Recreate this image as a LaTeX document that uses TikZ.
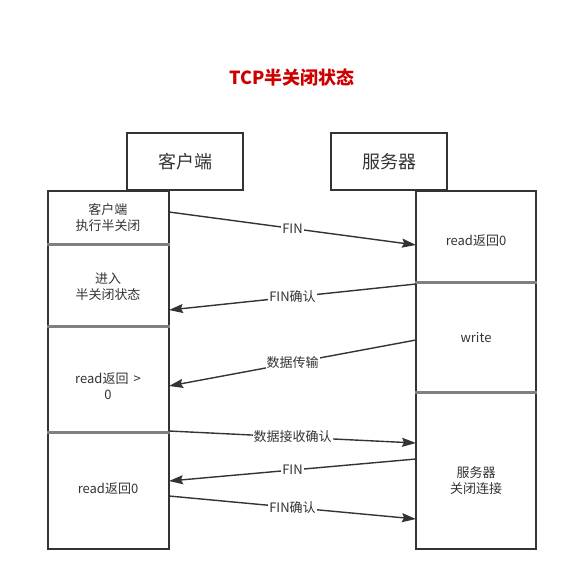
\documentclass[tikz,border=0pt]{standalone}
\usepackage{fontspec}
\setmainfont{Noto Sans CJK SC}
\usetikzlibrary{arrows.meta}

\begin{document}
\begin{tikzpicture}[
  x=1pt, y=-1pt,
  font=\fontsize{13}{16}\selectfont,
  hdr/.style={draw=black!80, line width=1.6pt, minimum width=116pt,
              minimum height=57pt, inner sep=0pt,
              font=\fontsize{18}{20}\selectfont, text=black!80},
  col/.style={draw=black!80, line width=1.6pt, minimum width=121pt,
              minimum height=358pt, inner sep=0pt},
  txt/.style={align=center, text=black!80},
  sep/.style={draw=black!50, line width=3pt},
  >={Stealth[length=14pt, width=9pt, inset=2pt]},
  msg/.style={->, draw=black!80, line width=1.4pt},
  lb/.style={fill=white, inner sep=1pt, text=black!80},
]
\useasboundingbox (0,0) rectangle (568,582);

\node[font=\fontsize{18}{20}\selectfont\bfseries, text=red!80!black] (title)
     at (292,78) {TCP半关闭状态};

\node[hdr] (cli) at (185,161.5) {客户端};
\node[hdr] (srv) at (389,161.5) {服务器};

\node[col] (cliCol) at (108.5,370) {};
\node[col, minimum width=120pt] (srvCol) at (476,370) {};

% separators
\draw[sep] (cliCol.west |- 0,244) -- (cliCol.east |- 0,244);
\draw[sep] (cliCol.west |- 0,326) -- (cliCol.east |- 0,326);
\draw[sep] (cliCol.west |- 0,432) -- (cliCol.east |- 0,432);
\draw[sep] (srvCol.west |- 0,282) -- (srvCol.east |- 0,282);
\draw[sep] (srvCol.west |- 0,392) -- (srvCol.east |- 0,392);

% cell texts
\node[txt] (c1) at (108,218) {客户端\\执行半关闭};
\node[txt] (c2) at (108,287) {进入\\半关闭状态};
\node[txt] (c3) at (108,386) {read返回 \,>\\0};
\node[txt] (c4) at (108,489) {read返回0};
\node[txt] (s1) at (476,241) {read返回0};
\node[txt] (s2) at (476,338) {write};
\node[txt] (s3) at (476,481) {服务器\\关闭连接};

% message end points
\coordinate (finC) at (169,212);   \coordinate (finS) at (416,245);
\coordinate (ackS) at (416,284);   \coordinate (ackC) at (169,310);
\coordinate (datS) at (416,340);   \coordinate (datC) at (169,386);
\coordinate (rcvC) at (169,431);   \coordinate (rcvS) at (416,443);
\coordinate (fin2S) at (416,459);  \coordinate (fin2C) at (169,481);
\coordinate (ack2C) at (169,496);  \coordinate (ack2S) at (416,519);

\draw[msg] (finC) -- node[lb] {FIN} (finS);
\draw[msg] (ackS) -- node[lb] {FIN确认} (ackC);
\draw[msg] (datS) -- node[lb] {数据传输} (datC);
\draw[msg] (rcvC) -- node[lb] {数据接收确认} (rcvS);
\draw[msg] (fin2S) -- node[lb] {FIN} (fin2C);
\draw[msg] (ack2C) -- node[lb] {FIN确认} (ack2S);

\end{tikzpicture}
\end{document}
